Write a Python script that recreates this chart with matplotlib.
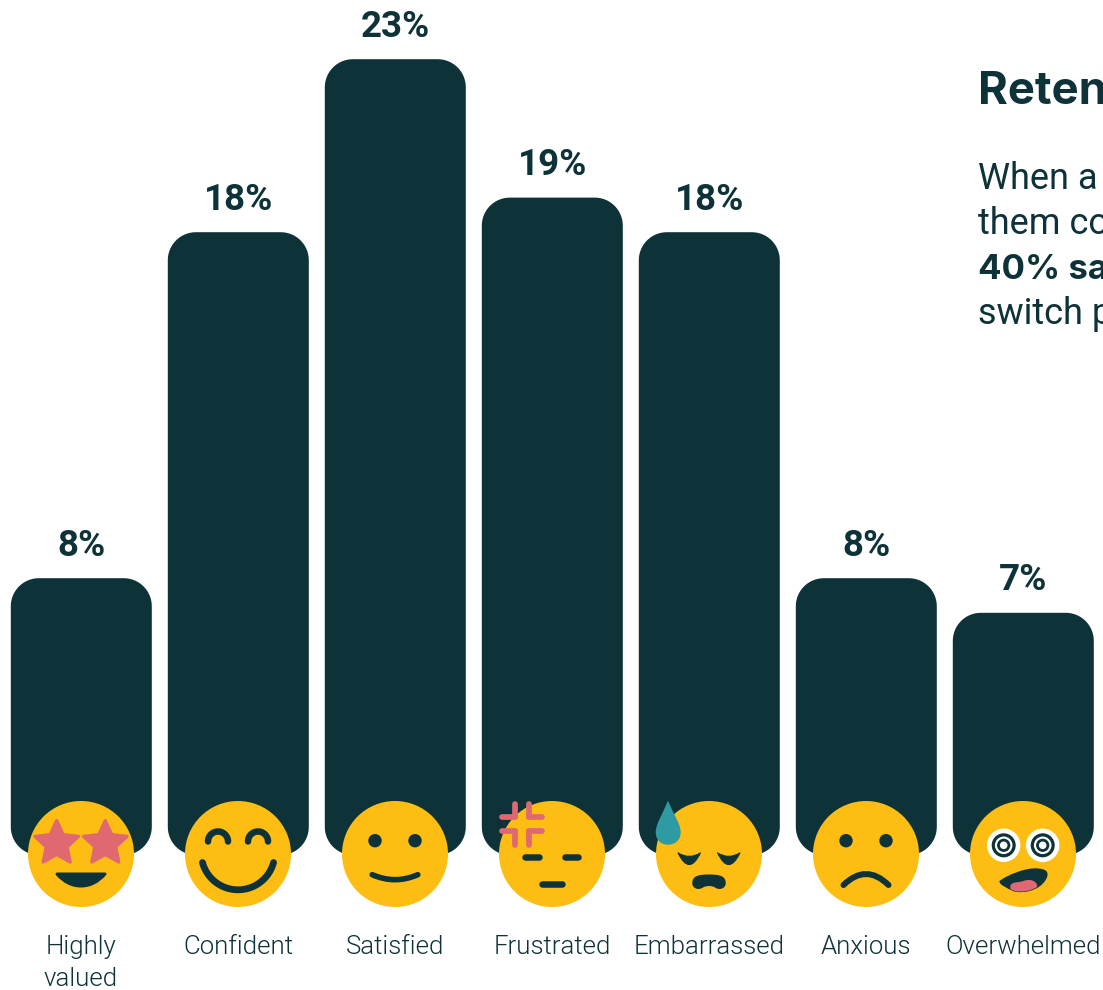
import numpy as np
import matplotlib
matplotlib.use('Agg')
import matplotlib.pyplot as plt
from matplotlib.patches import Circle, PathPatch, Polygon
from matplotlib.path import Path
from matplotlib.transforms import Affine2D

categories = ['Highly\nvalued', 'Confident', 'Satisfied', 'Frustrated',
              'Embarrassed', 'Anxious', 'Overwhelmed']
values = [8, 18, 23, 19, 18, 8, 7]

side_title = 'Reten'
side_lines = ['When a', 'them co', '40% sa', 'switch p']
bold_lines = [2]

DARK = '#0D3238'
YELLOW = '#FDBD12'
PINK = '#E06871'
TEAL = '#2E9AA2'

plt.rcParams['font.family'] = ['Roboto', 'DejaVu Sans']

W, H = 1103, 990
PX_X = 157.0   # pixels per category
PX_Y = 34.6    # pixels per percentage point
X0, Y0 = 81.3, 855.0

fig = plt.figure(figsize=(W / 100, H / 100), dpi=100, facecolor='white')
ax = fig.add_axes([0, 0, 1, 1])
ax.set_xlim(-X0 / PX_X, (W - X0) / PX_X)
ax.set_ylim((Y0 - H) / PX_Y, Y0 / PX_Y)
ax.axis('off')

M, L, C3, C4, Z = Path.MOVETO, Path.LINETO, Path.CURVE3, Path.CURVE4, Path.CLOSEPOLY


def rounded_bar(i, v, width, radius):
    # circular corners: radius is in pixels, so it differs per axis in data units
    rx, ry = radius / PX_X, radius / PX_Y
    x0, x1 = i - width / 2, i + width / 2
    pts = []
    for cx, cy, a0 in [(x1 - rx, v - ry, 0), (x0 + rx, v - ry, 90),
                       (x0 + rx, ry, 180), (x1 - rx, ry, 270)]:
        a = np.radians(np.linspace(a0, a0 + 90, 16))
        pts.append(np.column_stack([cx + rx * np.cos(a), cy + ry * np.sin(a)]))
    ax.add_patch(Polygon(np.vstack(pts), closed=True, fc=DARK, ec='none', zorder=2))


def line(t, pts, lw, color=DARK):
    # open stroke, pts in pixels around the face centre
    codes = None
    if len(pts) == 3:
        codes = [M, C3, C3]
    ax.add_patch(PathPatch(Path(pts, codes), fc='none', ec=color, lw=lw * 0.72,
                           capstyle='round', joinstyle='round', transform=t, zorder=5))


def blob(t, verts, codes, color=DARK, lw=0.0, z=5):
    ax.add_patch(PathPatch(Path(verts, codes), fc=color, ec=color, lw=lw * 0.72,
                           joinstyle='round', transform=t, zorder=z))


def dot(t, x, y, r, color=DARK, z=5):
    ax.add_patch(Circle((x, y), r, fc=color, ec='none', transform=t, zorder=z))


def arc(cx, cy, r, a0, a1):
    a = np.radians(np.linspace(a0, a1, 40))
    return np.column_stack([cx + r * np.cos(a), cy + r * np.sin(a)])


def star(t, cx, cy):
    a = np.radians(np.arange(10) * 36 - 90)
    r = np.where(np.arange(10) % 2 == 0, 23.0, 11.0)
    pts = np.column_stack([cx + r * np.cos(a), cy + r * np.sin(a)])
    ax.add_patch(Polygon(pts, closed=True, fc=PINK, ec=PINK, lw=3.2 * 0.72,
                         joinstyle='round', transform=t, zorder=5))


def face_highly_valued(t):
    star(t, -24.3, -10.5)
    star(t, 24.3, -10.5)
    blob(t, [(-24, 20), (24, 20), (17, 28), (9, 32), (0, 32), (-9, 32), (-17, 28), (-24, 20), (-24, 20)],
         [M, L, C4, C4, C4, C4, C4, C4, Z], lw=3)


def face_confident(t):
    for x in (-20, 20):
        line(t, arc(x, -12.5, 10, 180, 360), 6.5)
    line(t, arc(0, -1, 36.8, 15, 165), 6.8)


def face_satisfied(t):
    dot(t, -20, -13.3, 6.7)
    dot(t, 20, -13.3, 6.7)
    line(t, [(-22.8, 20.7), (0, 30.7), (22.8, 20.7)], 5.6)


def face_frustrated(t):
    line(t, [(-26.5, 3.3), (-13.3, 3.3)], 6.5)
    line(t, [(13.3, 3.3), (26.5, 3.3)], 6.5)
    line(t, [(-10, 30), (10, 30)], 6.5)
    # anger mark, four corners around a small gap
    a, b = -36.7, -23.3
    lo, hi = -50, -9.5
    for pts in ([(a, lo), (a, a)], [(lo, a), (a, a)], [(b, lo), (b, a)], [(b, a), (hi, a)],
                [(lo, b), (a, b)], [(a, b), (a, hi)], [(b, b), (hi, b)], [(b, b), (b, hi)]):
        line(t, pts, 5.7, PINK)


def face_embarrassed(t):
    for x0, x1 in ((-31, -8.5), (8.5, 31)):
        mx = (x0 + x1) / 2
        blob(t, [(x0, -1.2), (mx, 22.5), (x1, -1.2), (mx, 6), (x0, -1.2), (x0, -1.2)],
             [M, C3, C3, C3, C3, Z], lw=1)
    blob(t, [(-16.7, 28), (-16, 21), (-8, 20.5), (0, 20.5),
             (8, 20.5), (16, 21), (16.7, 28),
             (17.5, 34), (11, 37), (6, 33.5),
             (3, 31.5), (-3, 31.5), (-6, 33.5),
             (-11, 37), (-17.5, 34), (-16.7, 28), (-16.7, 28)],
         [M] + [C4] * 15 + [Z])
    blob(t, [(-41, -53.3), (-36, -41), (-28.3, -30), (-28.3, -21.8), (-28.3, -14), (-34, -9.3), (-41, -9.3),
             (-48, -9.3), (-53.3, -14), (-53.3, -21.8), (-53.3, -30), (-46, -41), (-41, -53.3), (-41, -53.3)],
         [M] + [C4] * 12 + [Z], TEAL)


def face_anxious(t):
    dot(t, -20, -13.3, 6.7)
    dot(t, 20, -13.3, 6.7)
    line(t, [(-22.5, 31), (0, 9), (22.5, 31)], 6)


def face_overwhelmed(t):
    for x in (-19.3, 19.7):
        dot(t, x, -8.7, 16.7, 'white', 5)
        dot(t, x, -8.7, 12.0, DARK, 6)
        dot(t, x, -8.7, 8.8, 'white', 7)
        dot(t, x, -8.7, 6.6, DARK, 8)
        dot(t, x, -8.7, 3.8, 'white', 9)
    blob(t, [(-23.5, 27), (-16, 21), (4, 13), (15, 14.5),
             (22, 15), (25, 17), (24.5, 21),
             (24, 27), (17, 33), (12, 35),
             (5, 38.5), (-5, 39), (-10, 37),
             (-16, 34), (-24, 31), (-23.5, 27), (-23.5, 27)],
         [M] + [C4] * 15 + [Z])
    blob(t, [(-12.5, 35), (-14, 29), (-9, 28.5), (-4, 28),
             (0, 27.5), (3, 25.5), (7, 26),
             (12, 26.5), (15, 30), (14, 33),
             (8, 37), (-5, 40), (-12.5, 35), (-12.5, 35)],
         [M] + [C4] * 12 + [Z], PINK, z=6)


faces = [face_highly_valued, face_confident, face_satisfied, face_frustrated,
         face_embarrassed, face_anxious, face_overwhelmed]

bar_w = 141.0 / PX_X
for i, (cat, v) in enumerate(zip(categories, values)):
    rounded_bar(i, v, bar_w, 28)
    ax.annotate('%d%%' % v, (i, v), xytext=(0, 22.5), textcoords='offset pixels',
                ha='center', va='baseline', fontsize=26.5, fontweight='bold', color=DARK)
    for n, part in enumerate(cat.split('\n')):
        ax.annotate(part, (i, 0), xytext=(-0.3, -(99 + 32 * n)), textcoords='offset pixels',
                    ha='center', va='baseline', fontsize=18.6, fontweight=300, color=DARK,
                    annotation_clip=False)

fig.canvas.draw()
for i, draw_face in enumerate(faces):
    cx, cy = ax.transData.transform((i, 0))
    # y runs downward in the face drawings
    t = Affine2D().scale(1, -1).translate(cx - 0.3, cy + 1)
    ax.add_patch(Circle((0, 0), 53, fc=YELLOW, ec='none', transform=t, zorder=4))
    draw_face(t)

fig.text(978 / W, 1 - 103.5 / H, side_title, fontsize=32.7, fontweight='bold', family='Inter', color=DARK)
for n, txt in enumerate(side_lines):
    if n in bold_lines:
        fig.text(978 / W, 1 - (189 + 45 * n) / H, txt, fontsize=25, fontweight='bold', family='Inter', color=DARK)
    else:
        fig.text(978 / W, 1 - (189 + 45 * n) / H, txt, fontsize=26, color=DARK)

fig.savefig('out.png', dpi=100)
